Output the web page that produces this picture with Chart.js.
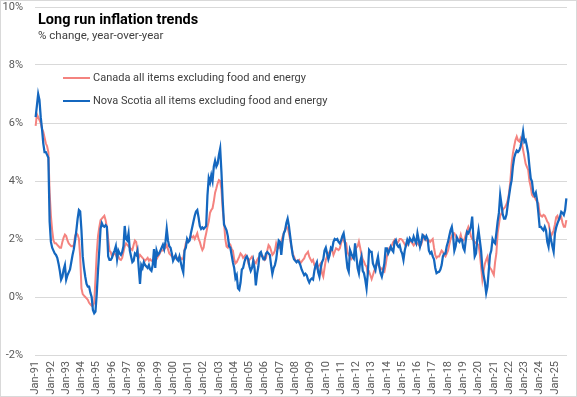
<!DOCTYPE html>
<html lang="en">
<head>
<meta charset="UTF-8">
<title>Long run inflation trends</title>
<script src="https://cdn.jsdelivr.net/npm/chart.js"></script>
<style>
    body { margin: 0; background: #fff; }
    #wrap { position: relative; width: 577px; height: 397px; font-family: Roboto, "Liberation Sans", sans-serif; }
    #wrap canvas { display: block; }
    #frame { position: absolute; left: 0; top: 0; width: 575px; height: 395px; border: 1px solid #d9d9d9; pointer-events: none; }
    .title { position: absolute; left: 38px; top: 11px; font-size: 14.5px; font-weight: bold; color: #000; line-height: 17px; }
    .subtitle { position: absolute; left: 38px; top: 28px; font-size: 11.5px; color: #404040; line-height: 14px; }
    .leg { position: absolute; left: 63px; display: flex; align-items: center; font-size: 11px; color: #404040; line-height: 14px; }
    .leg span.swatch { display: inline-block; width: 27px; height: 2px; margin-right: 3px; }
</style>
</head>
<body>
<div id="wrap">
    <canvas id="myChart" width="577" height="397"></canvas>
    <div class="title">Long run inflation trends</div>
    <div class="subtitle">% change, year-over-year</div>
    <div class="leg" style="top:71px"><span class="swatch" style="background:#f4837f"></span>Canada all items excluding food and energy</div>
    <div class="leg" style="top:94px"><span class="swatch" style="background:#1467bf;height:2.5px"></span>Nova Scotia all items excluding food and energy</div>
    <div id="frame"></div>
</div>
<script>
// monthly categories, Jan-91 .. Oct-25
const monthNames = ['Jan', 'Feb', 'Mar', 'Apr', 'May', 'Jun', 'Jul', 'Aug', 'Sep', 'Oct', 'Nov', 'Dec'];
const firstYear = 1991;
const lastYear = 2025;
const lastMonth = 10;

// y axis ticks (%)
const yTicks = [-2, 0, 2, 4, 6, 8, 10];

// Canada all items excluding food and energy, y/y %
const canada = [
    5.9, 6.3, 6.2, 6.1, 6.0, 5.8, 5.7, 5.5, 5.3, 5.2, 5.0, 3.6,        // 1991
    2.8, 2.3, 1.95, 1.85, 1.85, 1.8, 1.75, 1.7, 1.7, 1.9, 2.05, 2.15,  // 1992
    2.1, 1.95, 1.85, 1.8, 1.75, 1.75, 1.8, 2.1, 2.2, 2.15, 2.0, 1.4,   // 1993
    0.3, 0.1, 0.05, 0.0, -0.05, -0.1, -0.2, -0.25, -0.3, -0.3, -0.2, 0.6, // 1994
    1.5, 2.1, 2.4, 2.65, 2.7, 2.75, 2.8, 2.65, 2.4, 2.0, 1.6, 1.55,    // 1995
    1.4, 1.45, 1.5, 1.45, 1.35, 1.4, 1.3, 1.28, 1.35, 1.55, 1.75, 1.85, // 1996
    1.8, 1.75, 1.7, 1.65, 1.62, 1.8, 1.95, 1.9, 1.6, 1.35, 1.45, 1.4,  // 1997
    1.35, 1.3, 1.25, 1.3, 1.35, 1.25, 1.3, 1.25, 1.25, 1.2, 1.25, 1.3, // 1998
    1.39, 1.45, 1.55, 1.62, 1.6, 1.65, 1.7, 1.79, 1.65, 1.5, 1.45, 1.4, // 1999
    1.35, 1.4, 1.35, 1.3, 1.35, 1.3, 1.35, 1.3, 1.35, 1.62, 1.85, 1.96, // 2000
    1.96, 2.0, 2.1, 2.05, 2.1, 2.0, 2.1, 2.2, 2.0, 1.9, 1.74, 1.62,    // 2001
    1.7, 2.0, 2.2, 2.42, 2.6, 2.9, 3.0, 3.06, 3.3, 3.6, 3.75, 3.92,    // 2002
    4.03, 4.0, 3.7, 3.0, 2.6, 2.0, 1.74, 1.7, 1.85, 1.8, 1.65, 1.6,    // 2003
    1.3, 1.16, 1.2, 1.3, 1.39, 1.5, 1.45, 1.35, 1.4, 1.45, 1.39, 1.2,  // 2004
    1.28, 1.33, 1.39, 1.3, 1.2, 1.16, 1.28, 1.35, 1.39, 1.45, 1.42, 1.39, // 2005
    1.28, 1.33, 1.6, 1.79, 1.73, 1.6, 1.45, 1.5, 1.6, 1.85, 1.7, 1.68, // 2006
    1.73, 1.9, 2.08, 2.2, 2.31, 2.42, 2.4, 2.2, 1.97, 1.73, 1.5, 1.39, // 2007
    1.28, 1.22, 1.25, 1.28, 1.16, 1.22, 1.28, 1.33, 1.45, 1.5, 1.56, 1.39, // 2008
    1.3, 1.22, 1.28, 1.1, 1.05, 0.99, 1.05, 1.1, 1.16, 0.82, 0.7, 1.0, // 2009
    1.28, 1.39, 1.5, 1.56, 1.6, 1.62, 1.45, 1.56, 1.68, 1.65, 1.62, 1.68, // 2010
    1.85, 2.02, 1.97, 1.85, 1.85, 1.55, 1.45, 1.39, 1.3, 1.35, 1.39, 1.6, // 2011
    1.7, 1.75, 1.91, 1.7, 1.45, 1.3, 1.22, 1.1, 1.05, 0.82, 0.87, 0.75, // 2012
    0.62, 0.75, 0.9, 1.0, 1.16, 1.12, 1.05, 0.95, 0.99, 0.9, 0.87, 1.1, // 2013
    1.4, 1.6, 1.7, 1.75, 1.8, 1.9, 1.97, 1.88, 1.85, 1.91, 2.0, 2.0,   // 2014
    1.97, 1.9, 1.82, 1.75, 1.8, 1.9, 1.97, 1.9, 1.85, 1.78, 1.85, 1.9, // 2015
    1.85, 1.8, 1.75, 1.82, 1.97, 2.1, 2.0, 1.95, 1.95, 1.95, 1.9, 1.95, // 2016
    2.0, 1.7, 1.45, 1.35, 1.4, 1.4, 1.5, 1.6, 1.55, 1.45, 1.4, 1.5,    // 2017
    1.6, 1.8, 2.0, 2.1, 2.2, 2.2, 2.1, 2.0, 1.95, 2.0, 2.15, 1.97,     // 2018
    1.95, 2.0, 2.15, 2.3, 2.42, 2.3, 2.1, 2.0, 1.95, 1.9, 1.85, 1.82,  // 2019
    1.8, 1.5, 1.05, 0.6, 0.9, 1.15, 1.28, 1.39, 1.1, 1.0, 0.95, 0.85,  // 2020
    0.76, 1.2, 1.5, 2.2, 2.5, 2.8, 2.88, 3.0, 3.06, 3.11, 3.2, 3.35,   // 2021
    3.6, 4.0, 4.6, 4.95, 5.2, 5.41, 5.53, 5.4, 5.36, 5.47, 5.3, 5.07,  // 2022
    4.84, 4.6, 4.49, 4.38, 4.0, 3.8, 3.52, 3.46, 3.46, 3.35, 3.29, 3.23, // 2023
    2.88, 2.8, 2.77, 2.83, 2.8, 2.71, 2.6, 2.54, 2.3, 2.1, 2.19, 2.3,  // 2024
    2.5, 2.75, 2.8, 2.65, 2.7, 2.75, 2.55, 2.42, 2.42, 2.65            // 2025
];

// Nova Scotia all items excluding food and energy, y/y %
const novaScotia = [
    6.2, 6.6, 7.0, 6.8, 6.2, 5.8, 5.3, 5.0, 5.0, 4.9, 4.8, 2.6,        // 1991
    1.9, 1.7, 1.6, 1.5, 1.45, 1.35, 1.15, 0.9, 0.6, 0.7, 0.95, 1.1,    // 1992
    0.6, 0.75, 0.85, 0.95, 1.2, 1.45, 1.65, 1.95, 2.3, 2.7, 3.0, 2.95, // 1993
    2.3, 1.4, 1.0, 0.7, 0.45, 0.36, 0.36, 0.15, 0.0, -0.45, -0.56, -0.5, // 1994
    0.1, 0.9, 1.6, 2.35, 2.55, 2.45, 2.42, 2.48, 2.42, 1.4, 1.28, 1.28, // 1995
    1.35, 1.5, 1.6, 1.75, 1.3, 1.6, 1.5, 1.45, 1.55, 1.75, 2.45, 2.0,  // 1996
    1.95, 2.2, 1.6, 1.4, 1.2, 1.25, 1.5, 1.45, 1.6, 1.0, 0.45, 1.1,    // 1997
    1.0, 1.2, 1.1, 1.05, 1.0, 1.1, 0.95, 0.9, 1.1, 1.65, 1.0, 1.6,     // 1998
    1.45, 1.5, 1.6, 1.7, 1.8, 1.65, 1.9, 2.35, 1.95, 1.75, 1.7, 1.5,   // 1999
    1.25, 1.35, 1.45, 1.3, 1.25, 1.4, 1.2, 1.0, 0.85, 1.6, 1.7, 2.0,   // 2000
    1.9, 1.95, 2.2, 2.4, 2.6, 2.8, 2.95, 3.0, 2.75, 2.45, 2.35, 2.4,   // 2001
    2.35, 2.4, 2.45, 3.5, 4.1, 3.95, 4.2, 4.0, 4.5, 4.7, 4.5, 4.6,     // 2002
    4.9, 5.12, 4.3, 3.3, 2.5, 2.4, 2.3, 2.1, 1.75, 1.7, 1.45, 1.2,     // 2003
    1.0, 0.65, 0.75, 0.3, 0.25, 0.5, 0.95, 1.0, 1.2, 1.35, 1.4, 1.3,   // 2004
    1.05, 0.9, 1.0, 1.25, 1.0, 0.4, 0.8, 1.05, 1.5, 1.55, 1.4, 1.3,    // 2005
    1.3, 1.5, 1.55, 1.5, 1.45, 1.1, 0.8, 1.0, 1.1, 1.3, 1.65, 1.95,    // 2006
    1.9, 1.45, 1.9, 2.2, 2.3, 2.55, 2.7, 2.45, 2.1, 1.75, 1.45, 1.3,   // 2007
    1.25, 1.2, 1.25, 1.2, 1.1, 0.95, 0.85, 0.75, 0.8, 0.75, 0.6, 0.5,  // 2008
    0.6, 0.64, 0.6, 0.9, 1.1, 1.2, 0.85, 0.7, 1.0, 1.2, 1.3, 1.6,      // 2009
    1.7, 1.5, 1.3, 1.45, 1.7, 1.65, 1.9, 2.0, 1.97, 2.0, 1.9, 1.85,    // 2010
    1.95, 2.1, 2.2, 1.9, 1.4, 1.0, 0.87, 1.62, 1.5, 1.4, 1.33, 1.85,   // 2011
    1.39, 1.0, 0.82, 1.22, 1.39, 0.9, 0.82, 0.59, 0.3, 0.82, 1.62, 1.56, // 2012
    1.56, 1.16, 1.05, 0.93, 1.2, 1.39, 1.05, 0.82, 0.7, 0.9, 1.16, 1.68, // 2013
    1.68, 1.5, 1.6, 1.73, 1.62, 1.56, 1.91, 1.97, 1.8, 1.73, 1.79, 1.6, // 2014
    1.5, 1.28, 1.6, 1.79, 1.97, 1.85, 2.02, 1.95, 1.91, 2.08, 1.95, 1.85, // 2015
    2.2, 1.97, 1.73, 1.9, 2.14, 2.1, 2.0, 2.1, 2.0, 1.6, 1.5, 1.55,    // 2016
    1.4, 1.3, 1.0, 0.82, 0.85, 0.87, 0.95, 1.1, 1.4, 1.5, 1.5, 1.75,   // 2017
    1.9, 2.1, 2.3, 2.42, 2.1, 1.6, 1.75, 2.05, 1.95, 1.9, 2.0, 1.97,   // 2018
    1.7, 1.6, 1.97, 2.25, 2.2, 2.3, 2.42, 2.77, 2.0, 1.4, 1.5, 2.0,    // 2019
    2.3, 1.95, 1.6, 1.0, 0.75, 0.5, 0.14, 0.36, 0.9, 1.45, 1.6, 2.0,   // 2020
    1.9, 1.85, 2.2, 2.6, 2.9, 3.52, 3.2, 2.85, 2.7, 2.7, 2.85, 3.2,    // 2021
    3.5, 3.8, 4.03, 4.5, 4.8, 4.95, 5.05, 5.0, 5.05, 5.18, 5.4, 5.7,   // 2022
    5.35, 5.41, 5.2, 4.95, 4.5, 4.09, 3.98, 3.6, 3.5, 3.6, 3.34, 2.9,  // 2023
    2.42, 2.42, 2.35, 2.3, 2.42, 2.3, 1.9, 1.73, 2.19, 1.97, 1.75, 1.56, // 2024
    2.19, 2.4, 2.54, 2.65, 2.77, 2.94, 2.9, 2.83, 3.0, 3.4              // 2025
];

// build "Jan-91" style labels
let labels = [];
for (let y = firstYear; y <= lastYear; y++) {
    for (let m = 0; m < 12; m++) {
        if (y === lastYear && m >= lastMonth) break;
        labels.push(monthNames[m] + '-' + String(y).slice(2));
    }
}

const tickFont = { family: 'Roboto, "Liberation Sans", sans-serif', size: 11 };

const ctx = document.getElementById('myChart').getContext('2d');
new Chart(ctx, {
    type: 'line',
    data: {
        labels: labels,
        datasets: [
            {
                label: 'Nova Scotia all items excluding food and energy',
                data: novaScotia,
                borderColor: '#1467bf',
                borderWidth: 2.25,
                pointRadius: 0,
                tension: 0,
                order: 1
            },
            {
                label: 'Canada all items excluding food and energy',
                data: canada,
                borderColor: '#f4837f',
                borderWidth: 2,
                pointRadius: 0,
                tension: 0,
                order: 2
            }
        ]
    },
    options: {
        responsive: false,
        animation: false,
        layout: { padding: { top: 7, right: 10, left: 0, bottom: 0 } },
        plugins: {
            legend: { display: false },
            tooltip: { enabled: false }
        },
        scales: {
            x: {
                type: 'category',
                offset: true,
                grid: { display: false, drawTicks: false },
                border: { display: false },
                afterBuildTicks: (axis) => {
                    axis.ticks = axis.ticks.filter(t => t.value % 12 === 0);
                },
                afterFit: (scale) => {
                    scale.height = 42;
                    scale.paddingTop = 0;
                    scale.paddingBottom = 0;
                    scale.paddingLeft = 0;
                    scale.paddingRight = 0;
                },
                ticks: {
                    autoSkip: false,
                    minRotation: 90,
                    maxRotation: 90,
                    padding: 6,
                    color: '#595959',
                    font: tickFont
                }
            },
            y: {
                min: yTicks[0],
                max: yTicks[yTicks.length - 1],
                afterBuildTicks: (axis) => {
                    axis.ticks = yTicks.map(v => ({ value: v }));
                },
                afterFit: (scale) => {
                    scale.width = 35;
                    scale.paddingTop = 0;
                    scale.paddingBottom = 0;
                },
                grid: { color: '#d9d9d9', lineWidth: 1, drawTicks: false },
                border: { display: false },
                ticks: {
                    padding: 12,
                    color: '#595959',
                    font: tickFont,
                    callback: (v) => v + '%'
                }
            }
        }
    }
});
</script>
</body>
</html>
